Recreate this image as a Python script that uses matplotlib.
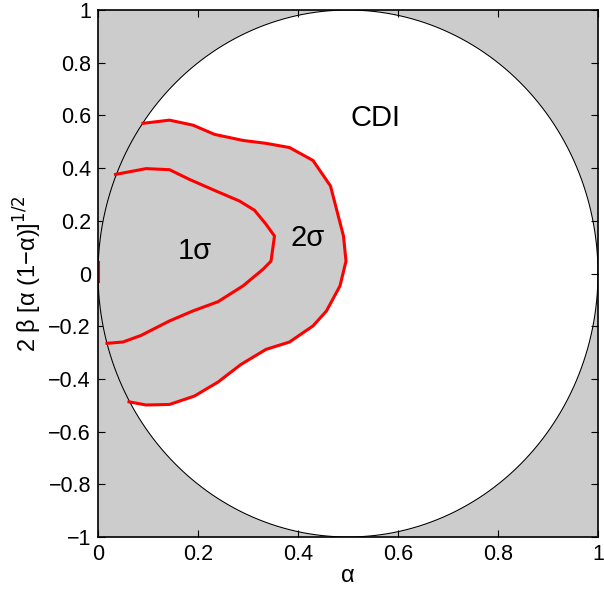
import numpy as np
import matplotlib
matplotlib.use("Agg")
import matplotlib.pyplot as plt

plt.rcParams['font.family'] = ['Liberation Sans', 'DejaVu Sans']

# 2-sigma contour (alpha, y)
c2_x = [0.090, 0.143, 0.190, 0.233, 0.290, 0.336, 0.383, 0.430, 0.465, 0.491, 0.496,
        0.484, 0.457, 0.430, 0.383, 0.336, 0.286, 0.240, 0.193, 0.143, 0.096, 0.062]
c2_y = [0.570, 0.582, 0.563, 0.528, 0.505, 0.494, 0.478, 0.429, 0.332, 0.142, 0.047,
        -0.047, -0.142, -0.199, -0.260, -0.288, -0.345, -0.412, -0.465, -0.497, -0.499, -0.487]
# 1-sigma contour
c1_x = [0.035, 0.096, 0.143, 0.183, 0.236, 0.283, 0.313, 0.336, 0.353, 0.346,
        0.330, 0.290, 0.240, 0.190, 0.143, 0.086, 0.050, 0.018]
c1_y = [0.376, 0.398, 0.394, 0.357, 0.313, 0.275, 0.240, 0.187, 0.142, 0.047,
        0.016, -0.047, -0.107, -0.142, -0.180, -0.235, -0.260, -0.265]
# small segment on alpha = 0
c0_x = [0.0, 0.0]
c0_y = [0.045, -0.03]

labels = [("CDI", 0.556, 0.59), ("1σ", 0.194, 0.085), ("2σ", 0.42, 0.135)]

fig = plt.figure(figsize=(6.04, 5.93), dpi=100)
ax = fig.add_axes([98 / 604, 1 - 537 / 593, 500 / 604, 527 / 593])
gray = '#cccccc'
ax.set_facecolor(gray)

t = np.linspace(0, 2 * np.pi, 721)
ex = 0.5 + 0.5 * np.cos(t)
ey = np.sin(t)
ax.fill(ex, ey, color='white', zorder=1)
ax.plot(ex, ey, color='black', lw=0.8, zorder=3)

# gray region enclosed by 2-sigma contour and the circle
def circ_x(y):
    return 0.5 - 0.5 * np.sqrt(max(0.0, 1 - y * y))
ys = np.linspace(c2_y[-1], c2_y[0], 200)
arc_x = [circ_x(v) for v in ys]
px = [circ_x(c2_y[0])] + c2_x + [circ_x(c2_y[-1])] + arc_x
py = [c2_y[0]] + c2_y + [c2_y[-1]] + list(ys)
ax.fill(px, py, color=gray, zorder=2, lw=0)

ax.plot(c2_x, c2_y, color='red', lw=2.2, zorder=4)
ax.plot(c1_x, c1_y, color='red', lw=2.2, zorder=4)
ax.plot(c0_x, c0_y, color='red', lw=2.2, zorder=4)

for s, x, y in labels:
    ax.text(x, y, s, fontsize=21, ha='center', va='center', zorder=5)

ax.set_xlim(0, 1)
ax.set_ylim(-1, 1)
ax.set_xticks(np.arange(0, 1.01, 0.2))
ax.set_yticks(np.arange(-1, 1.01, 0.2))
ax.set_xticklabels(['0', '0.2', '0.4', '0.6', '0.8', '1'])
ax.set_yticklabels(['−1', '−0.8', '−0.6', '−0.4', '−0.2', '0', '0.2', '0.4', '0.6', '0.8', '1'])
ax.tick_params(direction='in', top=True, right=True, labelsize=15.5, length=5, width=0.8, pad=5)
for sp in ax.spines.values():
    sp.set_linewidth(1.2)
    sp.set_zorder(6)
ax.set_xlabel('α', fontsize=17, labelpad=0)
ax.set_ylabel(r'2 β [α (1−α)]$^{1/2}$', fontsize=17, labelpad=3)

fig.savefig('out.png', dpi=100)
